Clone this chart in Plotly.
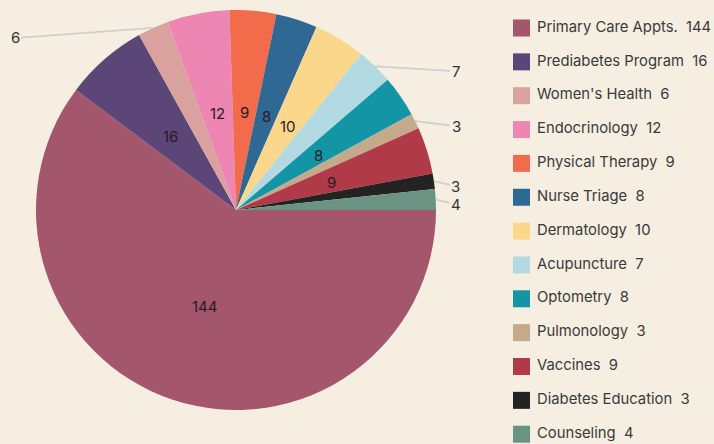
import math
import plotly.graph_objects as go

labels = ["Primary Care Appts.", "Prediabetes Program", "Women's Health", "Endocrinology",
          "Physical Therapy", "Nurse Triage", "Dermatology", "Acupuncture", "Optometry",
          "Pulmonology", "Vaccines", "Diabetes Education", "Counseling"]
values = [144, 16, 6, 12, 9, 8, 10, 7, 8, 3, 9, 3, 4]
colors = ["#A3566C", "#5B4677", "#D9A29F", "#EE86B3", "#F26B4B", "#2E6893", "#FAD78A",
          "#B3DAE3", "#1495A6", "#C4A98B", "#B03A48", "#232323", "#6A9384"]
outside_min = 8  # slices smaller than this get an outside label with a leader line

W, H = 714, 444
PIE_CX, PIE_CY, PIE_R = 236, 210, 200
DOM_X = [(PIE_CX - PIE_R) / W, (PIE_CX + PIE_R) / W]
DOM_Y = [1 - (PIE_CY + PIE_R) / H, 1 - (PIE_CY - PIE_R) / H]
FONT = "Inter, Roboto, sans-serif"
BG = "#F5EEE1"

# legend layout (pixels): first row centre, row pitch, swatch centre, text start
LEG_Y0, LEG_PITCH, LEG_SW_X, LEG_TX_X = 28, 33.85, 521.5, 537

fig = go.Figure()
fig.add_trace(go.Pie(
    labels=labels, values=values, sort=False, direction="clockwise", rotation=90,
    marker=dict(colors=colors, line=dict(width=0)),
    textinfo="none", domain=dict(x=DOM_X, y=DOM_Y), showlegend=False,
    hoverinfo="label+value",
))

# legend drawn as a small categorical scatter on its own hidden axes
rows = list(range(len(labels)))
fig.add_trace(go.Scatter(
    x=[LEG_SW_X] * len(labels), y=rows, mode="markers",
    marker=dict(symbol="square", size=17, color=colors, line=dict(width=0)),
    showlegend=False, hoverinfo="skip", xaxis="x", yaxis="y",
))
fig.add_trace(go.Scatter(
    x=[LEG_TX_X] * len(labels), y=rows, mode="text",
    text=[f"{lab}\u00a0\u00a0{val}" for lab, val in zip(labels, values)],
    textposition="middle right",
    textfont=dict(family=FONT, size=14.8, color="#3a3a3a"),
    showlegend=False, hoverinfo="skip", xaxis="x", yaxis="y",
))
n_last = len(labels) - 1
span_units = n_last / (LEG_PITCH * n_last) * H      # axis units across full height
top_val = -LEG_Y0 / H * span_units
bottom_val = top_val + span_units

# value labels, positioned from the slice angles
total = sum(values)
cx = (DOM_X[0] + DOM_X[1]) / 2 * W
cy = (1 - (DOM_Y[0] + DOM_Y[1]) / 2) * H
r = min((DOM_X[1] - DOM_X[0]) * W, (DOM_Y[1] - DOM_Y[0]) * H) / 2
cum = 0.0
annotations = []
for lab, val in zip(labels, values):
    span = 360.0 * val / total
    mid = math.radians(90 + cum + span / 2)
    cum += span
    if val >= outside_min:
        ix = cx + 0.5 * r * math.sin(mid)
        iy = cy - 0.5 * r * math.cos(mid) + 2
        annotations.append(dict(
            x=ix / W, y=1 - iy / H, xref="paper", yref="paper",
            text=str(val), showarrow=False, xanchor="center", yanchor="middle",
            font=dict(family=FONT, size=15, color="#2a1a26"),
        ))
        continue
    px = cx + r * math.sin(mid)
    py = cy - r * math.cos(mid)
    right = math.sin(mid) >= 0
    lx = cx + (r + 20) if right else cx - (r + 21)
    ly = py + (5 if right else 10)
    annotations.append(dict(
        x=px / W, y=1 - py / H, xref="paper", yref="paper",
        text=str(val), showarrow=True, arrowhead=0, arrowwidth=1.8, arrowcolor="#d0cfcb",
        ax=lx - px, ay=ly - py, standoff=0,
        font=dict(family=FONT, size=15, color="#333333"),
    ))

fig.update_layout(
    width=W, height=H, margin=dict(l=0, r=0, t=0, b=0),
    paper_bgcolor=BG, plot_bgcolor="rgba(0,0,0,0)", showlegend=False,
    xaxis=dict(visible=False, range=[0, W], domain=[0, 1], fixedrange=True),
    yaxis=dict(visible=False, range=[bottom_val, top_val], domain=[0, 1], fixedrange=True),
    annotations=annotations,
)

fig.write_html("out.html", config={"displayModeBar": False},
               post_script="document.body.style.margin='0';")
